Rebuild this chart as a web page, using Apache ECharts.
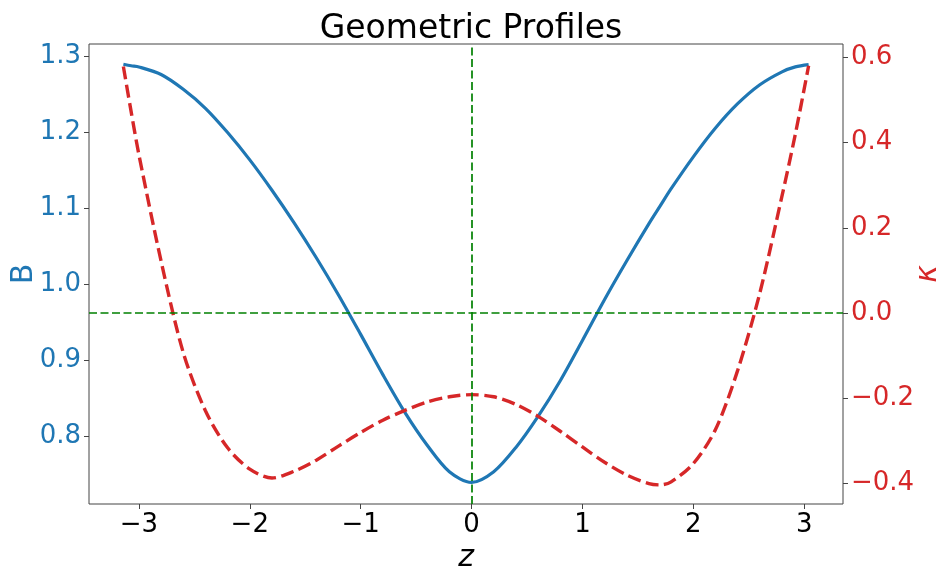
<!DOCTYPE html>
<html>
<head>
<meta charset="utf-8">
<script src="https://cdn.jsdelivr.net/npm/echarts@6/dist/echarts.min.js"></script>
<style>
  html, body { margin: 0; padding: 0; background: #fff; }
  #chart { width: 942px; height: 566px; }
</style>
</head>
<body>
<div id="chart"></div>
<script>
// Sample positions along z
const z = [-3.14, -3.07, -3.0, -2.8, -2.6, -2.4, -2.2, -2.0, -1.8, -1.6, -1.4, -1.2, -1.0, -0.8,
           -0.6, -0.4, -0.2, 0.0, 0.2, 0.4, 0.6, 0.8, 1.0, 1.2, 1.4, 1.6, 1.7, 1.8, 2.0, 2.2,
           2.4, 2.6, 2.8, 2.92, 3.04];

// Field strength B (left axis)
const B = [1.290, 1.288, 1.2865, 1.2765, 1.257, 1.232, 1.200, 1.164, 1.124, 1.081, 1.035, 0.986,
           0.934, 0.881, 0.831, 0.788, 0.753, 0.739, 0.753, 0.785, 0.826, 0.873, 0.926, 0.980,
           1.031, 1.080, 1.103, 1.126, 1.168, 1.206, 1.238, 1.263, 1.280, 1.2865, 1.2895];

// Curvature kappa (right axis)
const kappa = [0.579, 0.473, 0.372, 0.122, -0.093, -0.230, -0.317, -0.367, -0.388, -0.372,
               -0.346, -0.313, -0.281, -0.252, -0.229, -0.209, -0.197, -0.192, -0.197, -0.215,
               -0.243, -0.278, -0.315, -0.351, -0.381, -0.401, -0.404, -0.397, -0.354, -0.274,
               -0.135, 0.047, 0.275, 0.420, 0.581];

const xTicks = [-3, -2, -1, 0, 1, 2, 3];
const bTicks = [0.8, 0.9, 1.0, 1.1, 1.2, 1.3];
const kTicks = [-0.4, -0.2, 0.0, 0.2, 0.4, 0.6];

const BLUE = '#1f77b4';
const RED = '#d62728';
const GREEN = '#008000';
const FONT = 'DejaVu Sans';
const FRAME = '#444';

const fmt = (d) => (v) => {
  const s = Math.abs(v).toFixed(d);
  return v < -1e-9 ? '\u2212' + s : s;
};

const chart = echarts.init(document.getElementById('chart'), null, { renderer: 'canvas' });

chart.setOption({
  animation: false,
  backgroundColor: '#fff',
  title: {
    text: 'Geometric Profiles',
    left: 466,
    textAlign: 'center',
    top: 8,
    textStyle: { fontFamily: FONT, fontSize: 33, fontWeight: 'normal', color: '#000' }
  },
  grid: {
    left: 89, right: 99, top: 44, bottom: 62,
    containLabel: false,
    outerBoundsMode: 'none',
    show: true, borderColor: FRAME, borderWidth: 1, backgroundColor: 'transparent'
  },
  xAxis: {
    type: 'value',
    min: -3.45, max: 3.35,
    name: 'z',
    nameLocation: 'middle',
    nameGap: 24,
    nameTextStyle: { fontFamily: FONT, fontSize: 30, fontStyle: 'italic', color: '#000' },
    axisLine: { show: false, onZero: false },
    splitLine: { show: false },
    axisTick: { show: true, customValues: xTicks, length: 5, lineStyle: { color: FRAME } },
    axisLabel: { customValues: xTicks, formatter: fmt(0), fontFamily: FONT, fontSize: 26, color: '#000', margin: 8 }
  },
  yAxis: [
    {
      type: 'value',
      min: 0.7105, max: 1.3167,
      name: 'B',
      nameLocation: 'middle',
      nameGap: 50,
      nameRotate: 90,
      nameMoveOverlap: false,
      nameTextStyle: { fontFamily: FONT, fontSize: 30, color: BLUE },
      axisLine: { show: false, onZero: false },
      splitLine: { show: false },
      axisTick: { show: true, customValues: bTicks, length: 5, lineStyle: { color: FRAME } },
      axisLabel: { customValues: bTicks, formatter: fmt(1), fontFamily: FONT, fontSize: 26, color: BLUE, margin: 8 }
    },
    {
      type: 'value',
      position: 'right',
      min: -0.449, max: 0.632,
      name: '\u03ba',
      nameLocation: 'middle',
      nameGap: 70,
      nameRotate: 90,
      nameMoveOverlap: false,
      nameTextStyle: { fontFamily: FONT, fontSize: 30, fontStyle: 'italic', color: RED },
      axisLine: { show: false, onZero: false },
      splitLine: { show: false },
      axisTick: { show: true, customValues: kTicks, length: 5, lineStyle: { color: FRAME } },
      axisLabel: { customValues: kTicks, formatter: fmt(1), fontFamily: FONT, fontSize: 26, color: RED, margin: 8 }
    }
  ],
  series: [
    {
      name: 'B',
      type: 'line',
      yAxisIndex: 0,
      data: z.map((v, i) => [v, B[i]]),
      smooth: 0.3,
      showSymbol: false,
      lineStyle: { color: BLUE, width: 3.2 },
      z: 2
    },
    {
      name: 'kappa',
      type: 'line',
      yAxisIndex: 1,
      data: z.map((v, i) => [v, kappa[i]]),
      smooth: 0.3,
      showSymbol: false,
      lineStyle: { color: RED, width: 3.4, type: [13, 5.5] },
      z: 3,
      markLine: {
        silent: true,
        symbol: 'none',
        label: { show: false },
        lineStyle: { color: GREEN, width: 1.7, type: [8, 3.5] },
        data: [{ yAxis: 0 }, { xAxis: 0 }]
      }
    }
  ]
});
</script>
</body>
</html>
